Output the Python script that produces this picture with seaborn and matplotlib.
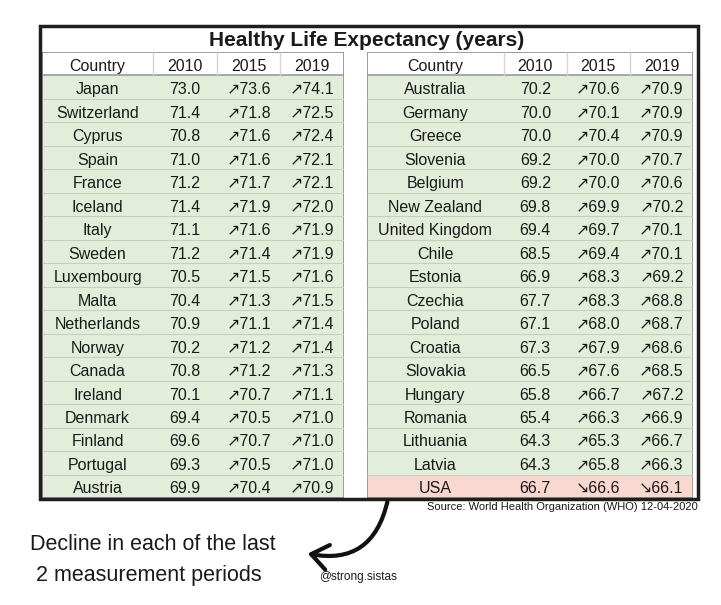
import numpy as np
import pandas as pd
import seaborn as sns
import matplotlib.pyplot as plt
from matplotlib.colors import ListedColormap
from matplotlib.patches import Rectangle, FancyArrowPatch

sns.set_theme(style='white')
plt.rcParams['font.family'] = ['Liberation Sans', 'DejaVu Sans']

years = ['2010', '2015', '2019']

left_countries = ['Japan', 'Switzerland', 'Cyprus', 'Spain', 'France', 'Iceland', 'Italy',
                  'Sweden', 'Luxembourg', 'Malta', 'Netherlands', 'Norway', 'Canada',
                  'Ireland', 'Denmark', 'Finland', 'Portugal', 'Austria']
left_2010 = [73.0, 71.4, 70.8, 71.0, 71.2, 71.4, 71.1, 71.2, 70.5, 70.4, 70.9, 70.2, 70.8, 70.1, 69.4, 69.6, 69.3, 69.9]
left_2015 = [73.6, 71.8, 71.6, 71.6, 71.7, 71.9, 71.6, 71.4, 71.5, 71.3, 71.1, 71.2, 71.2, 70.7, 70.5, 70.7, 70.5, 70.4]
left_2019 = [74.1, 72.5, 72.4, 72.1, 72.1, 72.0, 71.9, 71.9, 71.6, 71.5, 71.4, 71.4, 71.3, 71.1, 71.0, 71.0, 71.0, 70.9]

right_countries = ['Australia', 'Germany', 'Greece', 'Slovenia', 'Belgium', 'New Zealand',
                   'United Kingdom', 'Chile', 'Estonia', 'Czechia', 'Poland', 'Croatia',
                   'Slovakia', 'Hungary', 'Romania', 'Lithuania', 'Latvia', 'USA']
right_2010 = [70.2, 70.0, 70.0, 69.2, 69.2, 69.8, 69.4, 68.5, 66.9, 67.7, 67.1, 67.3, 66.5, 65.8, 65.4, 64.3, 64.3, 66.7]
right_2015 = [70.6, 70.1, 70.4, 70.0, 70.0, 69.9, 69.7, 69.4, 68.3, 68.3, 68.0, 67.9, 67.6, 66.7, 66.3, 65.3, 65.8, 66.6]
right_2019 = [70.9, 70.9, 70.9, 70.7, 70.6, 70.2, 70.1, 70.1, 69.2, 68.8, 68.7, 68.6, 68.5, 67.2, 66.9, 66.7, 66.3, 66.1]

GREEN = '#e2eed9'
PINK = '#f8d8cf'
TXT = '#1a1a1a'
cmap = ListedColormap([GREEN, PINK, 'white'])

W, H = 721, 605


def px_axes(x0, y0, x1, y1):
    return fig.add_axes([x0 / W, 1 - y1 / H, (x1 - x0) / W, (y1 - y0) / H])


def trend(new, old):
    return ('\u2197' if new >= old else '\u2198') + f'{new:.1f}'


def draw_table(ax, countries, v10, v15, v19, widths):
    edges = np.concatenate([[0], np.cumsum(widths)])
    nrow = len(countries) + 1
    codes = np.zeros((nrow, edges[-1]))
    codes[0, :] = 2
    for i in range(len(countries)):
        if v15[i] < v10[i] and v19[i] < v15[i]:
            codes[i + 1, :] = 1
    sns.heatmap(pd.DataFrame(codes), ax=ax, cmap=cmap, vmin=0, vmax=2, cbar=False,
                xticklabels=False, yticklabels=False)
    centers = (edges[:-1] + edges[1:]) / 2
    for j, lab in enumerate(['Country'] + years):
        ax.text(centers[j], 0.55, lab, ha='center', va='center_baseline',
                fontsize=11.5, color=TXT)
    for i, c in enumerate(countries):
        row = [c, f'{v10[i]:.1f}', trend(v15[i], v10[i]), trend(v19[i], v15[i])]
        for j, s in enumerate(row):
            ax.text(centers[j], i + 1.55, s, ha='center', va='center_baseline',
                    fontsize=11.5, color=TXT)
    ax.hlines(np.arange(2, nrow), 0, edges[-1], color='#c6d0be', lw=0.8)
    ax.hlines([1], 0, edges[-1], color='#9a9a9a', lw=1.2)
    ax.vlines(edges[1:-1], 0, 1, color='#d4d4d4', lw=1)
    ax.add_patch(Rectangle((0, 0), edges[-1], nrow, fill=False, ec='#8c8c8c', lw=1.2))


fig = plt.figure(figsize=(7.21, 6.05), dpi=100)

ax_l = px_axes(42, 52, 344, 498)
draw_table(ax_l, left_countries, left_2010, left_2015, left_2019, [7, 4, 4, 4])

ax_r = px_axes(367, 52, 693, 498)
draw_table(ax_r, right_countries, right_2010, right_2015, right_2019, [13, 6, 6, 6])

ov = fig.add_axes([0, 0, 1, 1], zorder=5)
ov.set_xlim(0, W)
ov.set_ylim(H, 0)
ov.axis('off')
ov.patch.set_alpha(0)

ov.add_patch(Rectangle((40, 26), 658, 473, fill=False, ec='#1e1e1e', lw=2.5))
ov.text(367, 40, 'Healthy Life Expectancy (years)', ha='center', va='center',
        fontsize=15, weight='bold', color=TXT)
ov.text(698, 507, 'Source: World Health Organization (WHO) 12-04-2020', ha='right',
        va='center', fontsize=8, color=TXT)
ov.text(30, 545, 'Decline in each of the last', ha='left', va='center',
        fontsize=15.5, color=TXT)
ov.text(36, 575, '2 measurement periods', ha='left', va='center',
        fontsize=15.5, color=TXT)
ov.text(358, 577, '@strong.sistas', ha='center', va='center', fontsize=8.5, color=TXT)
ov.add_patch(FancyArrowPatch((388, 499), (305, 553), connectionstyle='arc3,rad=-0.5',
                             arrowstyle='->,head_length=0.6,head_width=0.45',
                             mutation_scale=20, lw=3, color='#111111'))

fig.savefig('out.png', dpi=100)
